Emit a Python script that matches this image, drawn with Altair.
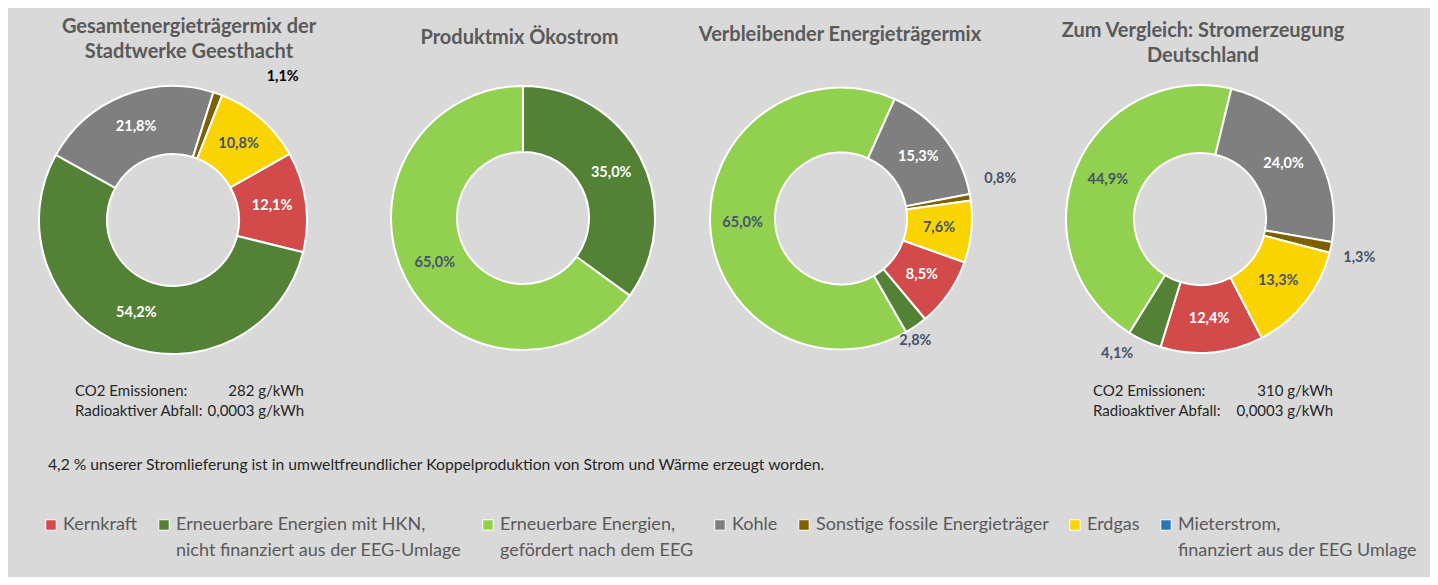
import math
import altair as alt
import pandas as pd

FONT = "Lato"

# ---- data -----------------------------------------------------------------
categories = [
    "Kernkraft",
    "Erneuerbare Energien mit HKN,\nnicht finanziert aus der EEG-Umlage",
    "Erneuerbare Energien,\ngefördert nach dem EEG",
    "Kohle",
    "Sonstige fossile Energieträger",
    "Erdgas",
    "Mieterstrom,\nfinanziert aus der EEG Umlage",
]
colors = ["#d24a4a", "#538135", "#92d050", "#7f7f7f", "#7f6000", "#fad400", "#2e75b6"]

gesamt = [12.1, 54.2, 0.0, 21.8, 1.1, 10.8, 0.0]
oekostrom = [0.0, 35.0, 65.0, 0.0, 0.0, 0.0, 0.0]
verbleibend = [8.5, 2.8, 65.0, 15.3, 0.8, 7.6, 0.0]
deutschland = [12.4, 4.1, 44.9, 24.0, 1.3, 13.3, 0.0]

titles = [
    ["Gesamtenergieträgermix der", "Stadtwerke Geesthacht"],
    ["Produktmix Ökostrom"],
    ["Verbleibender Energieträgermix"],
    ["Zum Vergleich: Stromerzeugung", "Deutschland"],
]
co2_labels = ["CO2 Emissionen:", "Radioaktiver Abfall:"]
co2_geesthacht = ["282 g/kWh", "0,0003 g/kWh"]
co2_deutschland = ["310 g/kWh", "0,0003 g/kWh"]
note = "4,2 % unserer Stromlieferung ist in umweltfreundlicher Koppelproduktion von Strom und Wärme erzeugt worden."

LABEL_DARK = "#44546a"
TEXT_DARK = "#262626"

color_enc = alt.Color(
    "kategorie:N",
    scale=alt.Scale(domain=categories, range=colors),
    legend=alt.Legend(
        title=None,
        orient="none",
        legendX=34,
        legendY=508,
        direction="horizontal",
        columns=7,
        symbolType="square",
        symbolSize=110,
        symbolStrokeColor="white",
        symbolStrokeWidth=1,
        symbolOpacity=1,
        labelFont=FONT,
        labelFontSize=18,
        labelColor="#595959",
        labelLimit=0,
        labelOffset=3,
        columnPadding=17,
        labelExpr="indexof(datum.label, '\\n') >= 0 ? split(datum.label, '\\n') : [datum.label, ' ']",
    ),
)


def donut(values, cx, cy, r_out, r_in, start_deg, outside):
    df = pd.DataFrame({"kategorie": categories, "anteil": values,
                       "idx": list(range(len(categories)))})
    base = alt.Chart(df).transform_filter("datum.anteil > 0").transform_calculate(
        lbl="replace(format(datum.anteil, '.1f'), '.', ',') + '%'"
    )
    start = math.radians(start_deg)
    theta = alt.Theta("anteil:Q", stack=True,
                      scale=alt.Scale(range=[start, start + 2 * math.pi]))
    order = alt.Order("idx:Q")
    pos = dict(x=alt.value(cx), y=alt.value(cy))

    arc = base.mark_arc(innerRadius=r_in, outerRadius=r_out, stroke="white",
                        strokeWidth=2).encode(theta=theta, order=order,
                                              color=color_enc, **pos)
    inside = base.transform_calculate(
        t="datum.anteil >= 5 ? datum.lbl : ''"
    ).mark_text(radius=(r_in + r_out) / 2, font=FONT, fontSize=14.5,
                fontWeight="bold", align="center", baseline="middle").encode(
        theta=theta, order=order, text="t:N",
        color=alt.condition("datum.idx == 0 || datum.idx == 1 || datum.idx == 3",
                            alt.value("white"), alt.value(LABEL_DARK)),
        **pos)
    layers = [arc, inside]
    for idx, (rad, off_deg, col) in outside.items():
        layers.append(
            base.transform_calculate(
                t=f"datum.idx == {idx} ? datum.lbl : ''"
            ).mark_text(radius=rad, thetaOffset=math.radians(off_deg), font=FONT,
                        fontSize=14.5, fontWeight="bold", align="center",
                        baseline="middle", color=col).encode(
                theta=theta, order=order, text="t:N", **pos)
        )
    return alt.layer(*layers)


def txt(lines, x, y, size, bold=False, color="#595959", align="center", lh=None):
    return alt.Chart(alt.Data(values=[{}])).mark_text(
        align=align, baseline="middle", font=FONT, fontSize=size,
        fontWeight="bold" if bold else "normal", color=color,
        lineHeight=lh if lh else round(size * 1.3)
    ).encode(x=alt.value(x), y=alt.value(y),
             text=alt.value(lines if len(lines) > 1 else lines[0]))


donuts = alt.layer(
    donut(gesamt, 165, 212, 134, 66, 60.4, {4: (180, 18, "#000000")}),
    donut(oekostrom, 515, 210, 132, 66, 0, {}),
    donut(verbleibend, 833, 210.5, 131, 66, 109.5,
          {1: (143, 3.5, LABEL_DARK), 4: (164, -4.5, LABEL_DARK)}),
    donut(deutschland, 1192, 211, 134, 66, 152.5,
          {4: (164, 1.5, LABEL_DARK), 1: (158, 7.1, LABEL_DARK)}),
).resolve_scale(theta="independent")

texts = [
    txt(titles[0], 181, 19, 20, bold=True, lh=25),
    txt(titles[1], 511.5, 30, 20, bold=True),
    txt(titles[2], 832, 27, 20, bold=True),
    txt(titles[3], 1195, 23, 20, bold=True, lh=25),
    txt([co2_labels[0]], 67, 383, 15, color=TEXT_DARK, align="left"),
    txt([co2_labels[1]], 67, 403, 15, color=TEXT_DARK, align="left"),
    txt([co2_geesthacht[0]], 296, 383, 15, color=TEXT_DARK, align="right"),
    txt([co2_geesthacht[1]], 296, 403, 15, color=TEXT_DARK, align="right"),
    txt([co2_labels[0]], 1085, 383, 15, color=TEXT_DARK, align="left"),
    txt([co2_labels[1]], 1085, 403, 15, color=TEXT_DARK, align="left"),
    txt([co2_deutschland[0]], 1325, 383, 15, color=TEXT_DARK, align="right"),
    txt([co2_deutschland[1]], 1325, 403, 15, color=TEXT_DARK, align="right"),
    txt([note], 40, 457, 15.7, color=TEXT_DARK, align="left"),
]

chart = alt.layer(donuts, *texts).properties(
    width=1422, height=569, padding=0,
    autosize=alt.AutoSizeParams(type="none"),
).configure(
    background="#d9d9d9",
    style={"guide-label": {"lineHeight": 26}},
).configure_view(stroke=None)

chart.save("out.html", embed_options={"renderer": "svg", "actions": False})
